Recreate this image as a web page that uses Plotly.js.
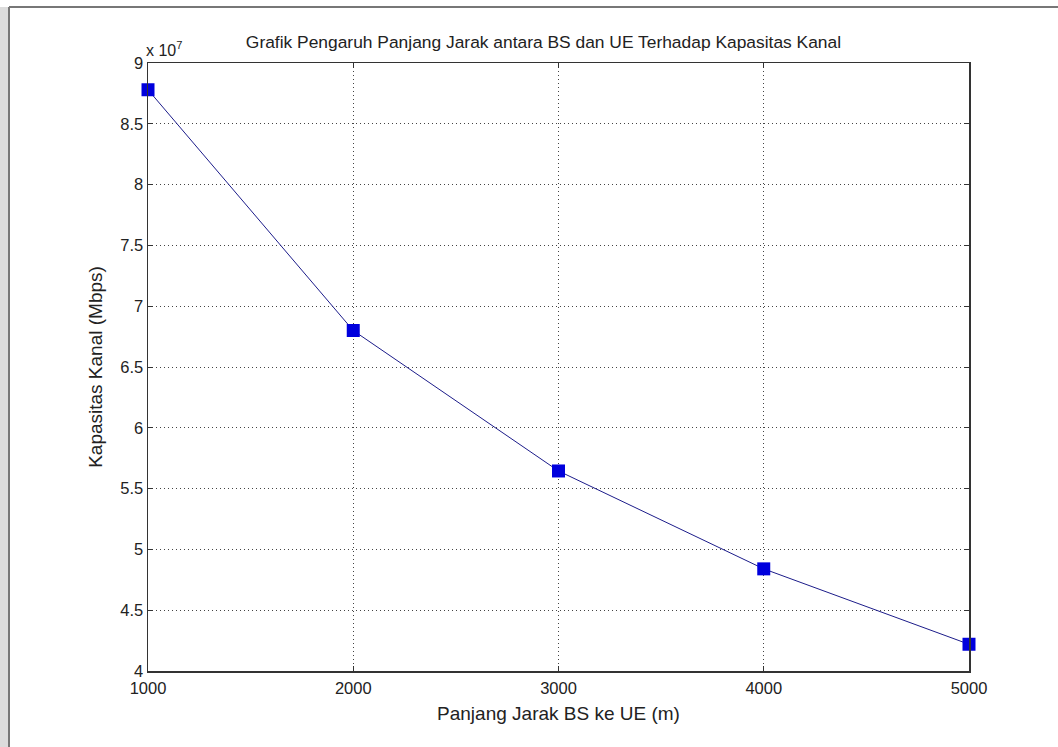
<!DOCTYPE html>
<html>
<head>
<meta charset="utf-8">
<script src="https://cdn.plot.ly/plotly-3.0.1.min.js"></script>
<style>
html,body{margin:0;padding:0;background:#fff;}
#chart{width:1058px;height:747px;}
</style>
</head>
<body>
<div id="chart"></div>
<script>
var jarak = [1000, 2000, 3000, 4000, 5000];
var kapasitas = [8.78e7, 6.80e7, 5.645e7, 4.84e7, 4.22e7];
var xTickVals = [1000, 2000, 3000, 4000, 5000];
var xTickText = ['1000', '2000', '3000', '4000', '5000'];
var yTickVals = [4e7, 4.5e7, 5e7, 5.5e7, 6e7, 6.5e7, 7e7, 7.5e7, 8e7, 8.5e7, 9e7];
var yTickText = ['4', '4.5', '5', '5.5', '6', '6.5', '7', '7.5', '8', '8.5', '9'];
var titleText = 'Grafik Pengaruh Panjang Jarak antara BS dan UE Terhadap Kapasitas Kanal';
var xTitle = 'Panjang Jarak BS ke UE (m)';
var yTitle = 'Kapasitas Kanal (Mbps)';
var exponentText = 'x 10<sup>7</sup>';

var font = 'Liberation Sans, Arial, sans-serif';
var txt = '#222';
var trace = {
  x: jarak, y: kapasitas, type: 'scatter', mode: 'lines+markers',
  line: {color: '#1c1c8a', width: 1},
  marker: {symbol: 'square', size: 13, color: '#0000dd', line: {width: 0}},
  cliponaxis: false, hoverinfo: 'none'
};
var axisCommon = {
  showline: true, linecolor: '#333', linewidth: 1.5, mirror: 'ticks',
  ticks: 'inside', ticklen: 5, tickcolor: '#333', tickwidth: 1,
  showgrid: true, gridcolor: '#444', griddash: '1px,3px', gridwidth: 1,
  zeroline: false, tickfont: {family: font, size: 16.5, color: txt},
  fixedrange: true
};
var layout = {
  width: 1058, height: 747,
  margin: {l: 148, r: 89, t: 63, b: 76},
  paper_bgcolor: '#ffffff', plot_bgcolor: '#ffffff',
  showlegend: false,
  title: {text: titleText, font: {family: font, size: 17.4, color: txt},
    x: 0.4817, xref: 'paper', xanchor: 'center', y: 1 - 42/747, yref: 'container', yanchor: 'middle'},
  xaxis: Object.assign({}, axisCommon, {
    range: [1000, 5000], tickvals: xTickVals, ticktext: xTickText, ticklabelstandoff: 2,
    title: {text: xTitle, font: {family: font, size: 19, color: txt}, standoff: 10}
  }),
  yaxis: Object.assign({}, axisCommon, {
    range: [4e7, 9e7], tickvals: yTickVals, ticktext: yTickText,
    title: {text: yTitle, font: {family: font, size: 19, color: txt}, standoff: 12}
  }),
  annotations: [{
    text: exponentText, xref: 'paper', yref: 'paper', x: 0, y: 1,
    xanchor: 'left', yanchor: 'bottom', showarrow: false, xshift: -4, yshift: 2,
    font: {family: font, size: 16, color: txt}
  }],
  shapes: [
    {type: 'rect', xref: 'paper', yref: 'paper', x0: -148/821, x1: -140/821, y0: -76/608, y1: 1 + 56/608,
     fillcolor: '#dcdcdc', line: {width: 0}, layer: 'below'},
    {type: 'line', xref: 'paper', yref: 'paper', x0: -139/821, x1: 1 + 89/821, y0: 1 + 56/608, y1: 1 + 56/608,
     line: {color: '#777', width: 2}},
    {type: 'line', xref: 'paper', yref: 'paper', x0: -139/821, x1: -139/821, y0: -76/608, y1: 1 + 56/608,
     line: {color: '#777', width: 2}}
  ]
};
Plotly.newPlot('chart', [trace], layout, {displayModeBar: false, staticPlot: true});
</script>
</body>
</html>
